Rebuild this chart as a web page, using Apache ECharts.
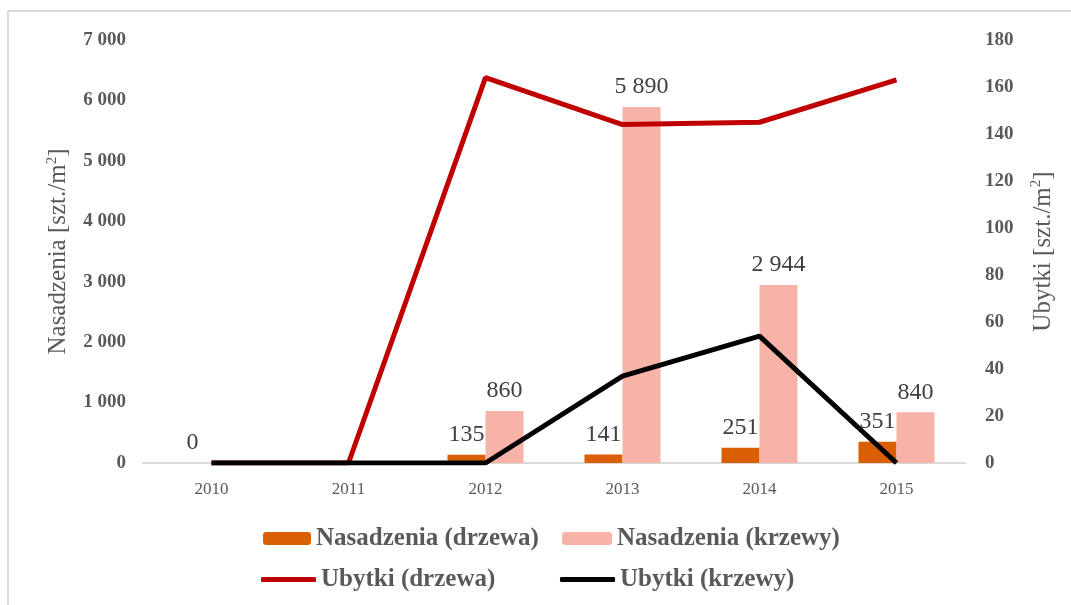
<!DOCTYPE html>
<html>
<head>
<meta charset="utf-8">
<script src="https://cdn.jsdelivr.net/npm/echarts@6/dist/echarts.min.js"></script>
<style>
  html, body { margin: 0; padding: 0; background: #fff; }
  #main { width: 1071px; height: 605px; }
</style>
</head>
<body>
<div id="main"></div>
<script>
const years = ['2010', '2011', '2012', '2013', '2014', '2015'];
const nasadzeniaDrzewa = [0, null, 135, 141, 251, 351];
const nasadzeniaKrzewy = [null, null, 860, 5890, 2944, 840];
const ubytkiDrzewa = [0, 0, 164, 144, 145, 163];
const ubytkiKrzewy = [0, 0, 0, 37, 54, 0];
const leftTicks = { min: 0, max: 7000, interval: 1000 };
const rightTicks = { min: 0, max: 180, interval: 20 };

const serif = 'Liberation Serif';
const grey = '#595959';

const chart = echarts.init(document.getElementById('main'));

const fmtThousands = v => String(v).replace(/\B(?=(\d{3})+(?!\d))/g, ' ');

const barLabel = {
  show: true,
  position: 'top',
  distance: 8,
  fontFamily: serif,
  fontSize: 24,
  color: '#404040',
  formatter: p => fmtThousands(p.value)
};

const legendText = { fontFamily: serif, fontSize: 25, fontWeight: 'bold', color: grey };
const tickText = { fontFamily: serif, fontSize: 19, fontWeight: 'bold', color: grey };

// axis title with a real superscript
const nameStyle = {
  fontFamily: serif, fontSize: 25, color: grey, lineHeight: 28,
  rich: {
    sup: { fontFamily: serif, fontSize: 15, color: grey, verticalAlign: 'top', lineHeight: 28, padding: [0, 0, 10, 0] }
  }
};

const option = {
  animation: false,
  graphic: [
    { type: 'line', shape: { x1: 8, y1: 11, x2: 1071, y2: 11 }, style: { stroke: '#d9d9d9', lineWidth: 2 } },
    { type: 'line', shape: { x1: 8, y1: 11, x2: 8, y2: 605 }, style: { stroke: '#d9d9d9', lineWidth: 2 } }
  ],
  grid: { left: 143, right: 106, top: 40, bottom: 142 },
  legend: [
    { data: ['Nasadzenia (drzewa)'], left: 258, top: 521, itemWidth: 48, itemHeight: 13, textStyle: legendText },
    { data: ['Nasadzenia (krzewy)'], left: 557, top: 521, itemWidth: 50, itemHeight: 13, textStyle: legendText },
    { data: [{ name: 'Ubytki (drzewa)', icon: 'roundRect' }], left: 256, top: 562, itemWidth: 55, itemHeight: 5, textStyle: legendText },
    { data: [{ name: 'Ubytki (krzewy)', icon: 'roundRect' }], left: 555, top: 562, itemWidth: 55, itemHeight: 5, textStyle: legendText }
  ],
  xAxis: {
    type: 'category',
    data: years,
    axisLine: { lineStyle: { color: '#d9d9d9', width: 2 } },
    axisTick: { show: false },
    axisLabel: { fontFamily: serif, fontSize: 17, color: grey, margin: 18 }
  },
  yAxis: [
    {
      type: 'value',
      min: leftTicks.min, max: leftTicks.max, interval: leftTicks.interval,
      name: 'Nasadzenia [szt./m{sup|2}]',
      nameLocation: 'middle',
      nameGap: 66,
      nameTextStyle: nameStyle,
      axisLine: { show: false },
      axisTick: { show: false },
      splitLine: { show: false },
      axisLabel: Object.assign({ margin: 17, formatter: fmtThousands }, tickText)
    },
    {
      type: 'value',
      min: rightTicks.min, max: rightTicks.max, interval: rightTicks.interval,
      name: 'Ubytki [szt./m{sup|2}]',
      nameLocation: 'middle',
      nameGap: 64,
      nameTextStyle: nameStyle,
      axisLine: { show: false },
      axisTick: { show: false },
      splitLine: { show: false },
      axisLabel: Object.assign({ margin: 20 }, tickText)
    }
  ],
  series: [
    {
      name: 'Nasadzenia (drzewa)',
      type: 'bar',
      yAxisIndex: 0,
      data: nasadzeniaDrzewa,
      barWidth: 38,
      barGap: '0%',
      itemStyle: { color: '#d95f02' },
      label: barLabel
    },
    {
      name: 'Nasadzenia (krzewy)',
      type: 'bar',
      yAxisIndex: 0,
      data: nasadzeniaKrzewy,
      barWidth: 38,
      barGap: '0%',
      itemStyle: { color: '#f8b3a8' },
      label: barLabel
    },
    {
      name: 'Ubytki (drzewa)',
      type: 'line',
      yAxisIndex: 1,
      data: ubytkiDrzewa,
      symbol: 'none',
      lineStyle: { color: '#c00000', width: 5 },
      itemStyle: { color: '#c00000' }
    },
    {
      name: 'Ubytki (krzewy)',
      type: 'line',
      yAxisIndex: 1,
      data: ubytkiKrzewy,
      symbol: 'none',
      lineStyle: { color: '#000000', width: 5 },
      itemStyle: { color: '#000000' }
    }
  ]
};

chart.setOption(option);
</script>
</body>
</html>
